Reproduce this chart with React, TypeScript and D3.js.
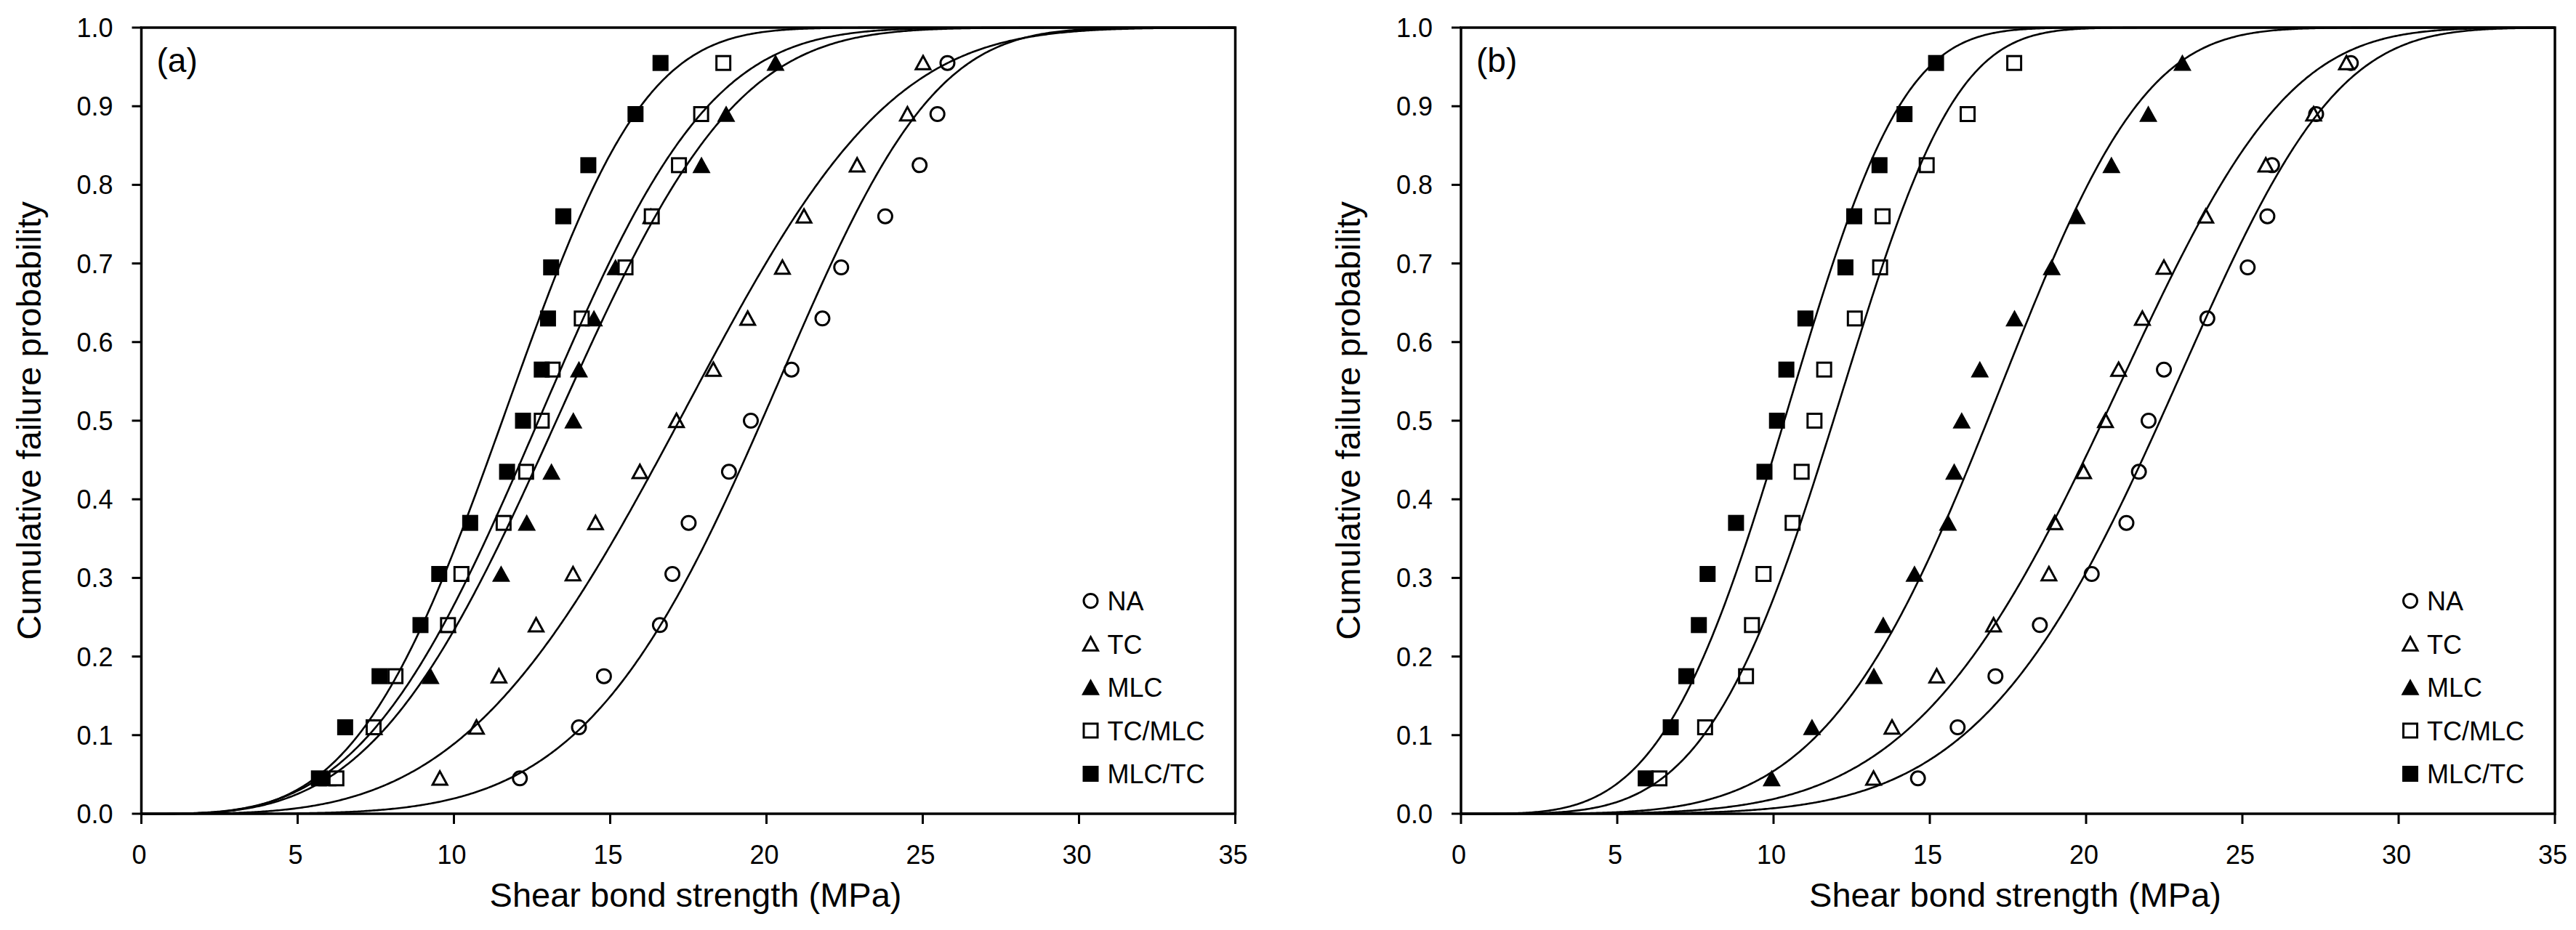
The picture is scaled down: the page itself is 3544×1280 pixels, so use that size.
import React from 'react';
import * as d3 from 'd3';

// ---------- data ----------
const SERIES = ['NA', 'TC', 'MLC', 'TC/MLC', 'MLC/TC'];
const MARKERS = ['circleOpen', 'triOpen', 'triFilled', 'squareOpen', 'squareFilled'];

// cumulative failure probability (median rank) of each of the 15 specimens
const RANK_PROB = [0.045, 0.11, 0.175, 0.24, 0.305, 0.37, 0.435, 0.5, 0.565, 0.63, 0.695, 0.76, 0.825, 0.89, 0.955];

// panel (a): shear bond strength (MPa)
const A_NA = [12.11, 14.0, 14.8, 16.59, 16.99, 17.51, 18.8, 19.5, 20.8, 21.79, 22.39, 23.8, 24.9, 25.47, 25.79];
const A_TC = [9.55, 10.72, 11.44, 12.63, 13.81, 14.53, 15.95, 17.12, 18.3, 19.4, 20.51, 21.2, 22.9, 24.51, 25.01];
const A_MLC = [5.95, 7.45, 9.25, 9.8, 11.51, 12.33, 13.12, 13.82, 14.0, 14.48, 15.17, 16.3, 17.92, 18.71, 20.29];
const A_TCMLC = [6.24, 7.43, 8.13, 9.81, 10.24, 11.59, 12.31, 12.81, 13.16, 14.09, 15.49, 16.33, 17.2, 17.91, 18.62];
const A_MLCTC = [5.68, 6.52, 7.62, 8.93, 9.53, 10.52, 11.7, 12.21, 12.81, 13.01, 13.11, 13.5, 14.3, 15.81, 16.61];

// panel (b): shear bond strength (MPa)
const B_NA = [14.62, 15.89, 17.1, 18.52, 20.18, 21.29, 21.69, 22.0, 22.49, 23.88, 25.17, 25.8, 25.95, 27.36, 28.47];
const B_TC = [13.2, 13.79, 15.22, 17.04, 18.81, 19.0, 19.92, 20.62, 21.04, 21.8, 22.49, 23.83, 25.75, 27.28, 28.33];
const B_MLC = [9.94, 11.23, 13.21, 13.51, 14.51, 15.58, 15.78, 16.02, 16.6, 17.71, 18.9, 19.7, 20.81, 21.99, 23.08];
const B_TCMLC = [6.35, 7.81, 9.12, 9.31, 9.68, 10.61, 10.9, 11.31, 11.62, 12.6, 13.41, 13.49, 14.9, 16.21, 17.7];
const B_MLCTC = [5.91, 6.71, 7.21, 7.61, 7.89, 8.8, 9.71, 10.11, 10.41, 11.02, 12.3, 12.58, 13.39, 14.19, 15.2];

// fitted two-parameter Weibull curves (modulus m, characteristic strength x0), order as SERIES
const A_WEIBULL_M = [5.2, 3.7, 3.38, 3.38, 3.7];
const A_WEIBULL_X0 = [21.3, 19.0, 14.8, 14.16, 12.75];
const B_WEIBULL_M = [5.7, 5.0, 4.83, 4.4, 3.95];
const B_WEIBULL_X0 = [23.85, 22.1, 18.17, 12.95, 11.35];

const X_TICKS = [0, 5, 10, 15, 20, 25, 30, 35];
const Y_TICKS = [0, 0.1, 0.2, 0.3, 0.4, 0.5, 0.6, 0.7, 0.8, 0.9, 1.0];

const X_TITLE = 'Shear bond strength (MPa)';
const Y_TITLE = 'Cumulative failure probability';

// ---------- layout ----------
const W = 3544;
const H = 1280;
const TOP = 38;
const BOTTOM = 1120;
const PLOT_W = 1505;
const FONT = '"Liberation Sans", Arial, Helvetica, sans-serif';

function Marker({ type, x, y }: { type: string; x: number; y: number }) {
  const sw = 3;
  if (type === 'circleOpen') {
    return <circle cx={x} cy={y} r={9.5} fill="#fff" stroke="#000" strokeWidth={sw} />;
  }
  if (type === 'squareOpen') {
    const s = 19;
    return <rect x={x - s / 2} y={y - s / 2} width={s} height={s} fill="#fff" stroke="#000" strokeWidth={sw} />;
  }
  if (type === 'squareFilled') {
    const s = 22;
    return <rect x={x - s / 2} y={y - s / 2} width={s} height={s} fill="#000" />;
  }
  if (type === 'triOpen') {
    const s = 20;
    const h = s * 0.866;
    const d = `M${x},${y - h / 2 - 1}L${x + s / 2},${y + h / 2}L${x - s / 2},${y + h / 2}Z`;
    return <path d={d} fill="#fff" stroke="#000" strokeWidth={sw} strokeLinejoin="miter" />;
  }
  // triFilled
  const s = 25;
  const h = s * 0.866;
  const d = `M${x},${y - h / 2 - 1}L${x + s / 2},${y + h / 2}L${x - s / 2},${y + h / 2}Z`;
  return <path d={d} fill="#000" />;
}

type PanelProps = {
  left: number;
  label: string;
  values: number[][];
  mods: number[];
  scales: number[];
};

function Panel({ left, label, values, mods, scales }: PanelProps) {
  const x = d3.scaleLinear().domain([0, 35]).range([left, left + PLOT_W]);
  const y = d3.scaleLinear().domain([0, 1]).range([BOTTOM, TOP]);

  const xs = d3.range(0, 35.0001, 0.05);
  const line = d3
    .line<[number, number]>()
    .x((d) => x(d[0]))
    .y((d) => y(d[1]));

  const curves = mods.map((m, i) =>
    line(xs.map((v) => [v, 1 - Math.exp(-Math.pow(v / scales[i], m))] as [number, number]))
  );

  const right = left + PLOT_W;
  const legX = left + 1306;
  const legY0 = 827;
  const legDy = 59.5;

  return (
    <g>
      {/* markers */}
      {values.map((arr, si) =>
        arr.map((v, i) => <Marker key={`${si}-${i}`} type={MARKERS[si]} x={x(v)} y={y(RANK_PROB[i])} />)
      )}
      {/* fitted curves */}
      {curves.map((d, i) => (
        <path key={i} d={d || ''} fill="none" stroke="#000" strokeWidth={2.6} />
      ))}
      {/* frame */}
      <rect x={left} y={TOP} width={PLOT_W} height={BOTTOM - TOP} fill="none" stroke="#000" strokeWidth={3.5} />
      {/* y ticks */}
      {Y_TICKS.map((t) => (
        <g key={`y${t}`}>
          <line x1={left - 13} x2={left} y1={y(t)} y2={y(t)} stroke="#000" strokeWidth={3} />
          <text
            x={left - 39}
            y={y(t) + 13}
            textAnchor="end"
            fontSize={36}
            fontFamily={FONT}
            fill="#000"
          >
            {d3.format('.1f')(t)}
          </text>
        </g>
      ))}
      {/* x ticks */}
      {X_TICKS.map((t) => (
        <g key={`x${t}`}>
          <line x1={x(t)} x2={x(t)} y1={BOTTOM} y2={BOTTOM + 14} stroke="#000" strokeWidth={3} />
          <text x={x(t) - 3} y={1189} textAnchor="middle" fontSize={36} fontFamily={FONT} fill="#000">
            {t}
          </text>
        </g>
      ))}
      {/* axis titles */}
      <text
        x={(left + right) / 2 + 10}
        y={1248}
        textAnchor="middle"
        fontSize={47}
        fontFamily={FONT}
        fill="#000"
      >
        {X_TITLE}
      </text>
      <text
        transform={`translate(${left - 139},${(TOP + BOTTOM) / 2}) rotate(-90)`}
        textAnchor="middle"
        fontSize={47}
        fontFamily={FONT}
        fill="#000"
      >
        {Y_TITLE}
      </text>
      {/* panel label */}
      <text x={left + 21} y={99} fontSize={46} fontFamily={FONT} fill="#000">
        {label}
      </text>
      {/* legend */}
      {SERIES.map((s, i) => (
        <g key={s}>
          <Marker type={MARKERS[i]} x={legX} y={legY0 + i * legDy} />
          <text x={legX + 23} y={legY0 + i * legDy + 13} fontSize={36} fontFamily={FONT} fill="#000">
            {s}
          </text>
        </g>
      ))}
    </g>
  );
}

export default function App() {
  return (
    <svg
      width={W}
      height={H}
      viewBox={`0 0 ${W} ${H}`}
      style={{ position: 'absolute', left: 0, top: 0, background: '#fff' }}
    >
      <rect x={0} y={0} width={W} height={H} fill="#fff" />
      <Panel
        left={194.5}
        label="(a)"
        values={[A_NA, A_TC, A_MLC, A_TCMLC, A_MLCTC]}
        mods={A_WEIBULL_M}
        scales={A_WEIBULL_X0}
      />
      <Panel
        left={2010}
        label="(b)"
        values={[B_NA, B_TC, B_MLC, B_TCMLC, B_MLCTC]}
        mods={B_WEIBULL_M}
        scales={B_WEIBULL_X0}
      />
    </svg>
  );
}
